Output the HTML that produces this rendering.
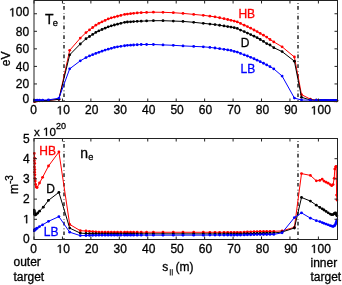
<!DOCTYPE html>
<html><head><meta charset="utf-8"><style>
html,body{margin:0;padding:0;background:#fff;overflow:hidden;}
svg{display:block;font-family:"Liberation Sans",sans-serif;will-change:transform;}
</style></head><body>
<svg width="342" height="285" viewBox="0 0 342 285"><rect width="342" height="285" fill="#fff"/><defs><clipPath id="c1"><rect x="33.0" y="0.5" width="305.5" height="102.0"/></clipPath><clipPath id="c2"><rect x="33.0" y="138.5" width="305.5" height="102.0"/></clipPath></defs><line x1="64.0" y1="0.5" x2="64.0" y2="101.5" stroke="#1a1a1a" stroke-width="1.4" stroke-dasharray="3.7 3.2 0.6 2.2" stroke-dashoffset="4.1"/>
<line x1="298.0" y1="0.5" x2="298.0" y2="101.5" stroke="#1a1a1a" stroke-width="1.4" stroke-dasharray="3.7 3.2 0.6 2.2" stroke-dashoffset="4.1"/>
<g clip-path="url(#c1)"><polyline points="34.00,101.20 34.20,101.19 34.40,101.17 34.60,101.16 34.80,101.15 35.00,101.14 35.30,101.12 35.70,101.09 36.20,101.06 37.10,101.00 39.50,100.91 42.60,100.80 48.50,100.40 58.90,99.30 69.70,50.30 80.30,38.10 86.00,32.61 89.50,29.90 92.70,27.52 95.80,25.22 98.90,23.34 102.00,21.87 105.10,20.39 108.20,18.92 111.30,17.84 114.40,17.03 117.50,16.23 120.80,15.38 124.60,14.40 127.40,14.06 130.60,13.67 133.60,13.31 137.20,12.89 141.20,12.68 146.60,12.40 153.40,12.20 163.00,12.30 173.30,12.70 183.00,13.39 193.70,14.40 203.30,15.30 209.90,16.18 215.00,16.87 219.60,17.77 224.00,18.71 227.70,19.50 231.00,20.30 234.20,21.07 237.30,21.93 240.50,23.41 244.20,25.20 247.40,26.56 250.70,28.20 254.00,30.00 257.10,31.60 260.20,33.40 263.50,35.20 266.70,37.10 270.00,39.50 273.80,41.88 282.10,46.80 294.40,57.00 301.50,94.60 310.40,99.20 316.30,100.20 319.80,100.48 322.20,100.54 324.00,100.57 326.10,100.61 328.20,100.64 330.30,100.68 331.70,100.71 333.10,100.73 334.20,100.75 334.80,100.76 335.60,100.78 336.20,100.79 336.60,100.79 337.00,100.80" fill="none" stroke="#ff0000" stroke-width="1.0" stroke-linejoin="round"/>
<g fill="#ff0000"><circle cx="34.00" cy="101.20" r="1.4"/><circle cx="34.20" cy="101.19" r="1.4"/><circle cx="34.40" cy="101.17" r="1.4"/><circle cx="34.60" cy="101.16" r="1.4"/><circle cx="34.80" cy="101.15" r="1.4"/><circle cx="35.00" cy="101.14" r="1.4"/><circle cx="35.30" cy="101.12" r="1.4"/><circle cx="35.70" cy="101.09" r="1.4"/><circle cx="36.20" cy="101.06" r="1.4"/><circle cx="37.10" cy="101.00" r="1.4"/><circle cx="39.50" cy="100.91" r="1.4"/><circle cx="42.60" cy="100.80" r="1.4"/><circle cx="48.50" cy="100.40" r="1.4"/><circle cx="58.90" cy="99.30" r="1.4"/><circle cx="69.70" cy="50.30" r="1.4"/><circle cx="80.30" cy="38.10" r="1.4"/><circle cx="86.00" cy="32.61" r="1.4"/><circle cx="89.50" cy="29.90" r="1.4"/><circle cx="92.70" cy="27.52" r="1.4"/><circle cx="95.80" cy="25.22" r="1.4"/><circle cx="98.90" cy="23.34" r="1.4"/><circle cx="102.00" cy="21.87" r="1.4"/><circle cx="105.10" cy="20.39" r="1.4"/><circle cx="108.20" cy="18.92" r="1.4"/><circle cx="111.30" cy="17.84" r="1.4"/><circle cx="114.40" cy="17.03" r="1.4"/><circle cx="117.50" cy="16.23" r="1.4"/><circle cx="120.80" cy="15.38" r="1.4"/><circle cx="124.60" cy="14.40" r="1.4"/><circle cx="127.40" cy="14.06" r="1.4"/><circle cx="130.60" cy="13.67" r="1.4"/><circle cx="133.60" cy="13.31" r="1.4"/><circle cx="137.20" cy="12.89" r="1.4"/><circle cx="141.20" cy="12.68" r="1.4"/><circle cx="146.60" cy="12.40" r="1.4"/><circle cx="153.40" cy="12.20" r="1.4"/><circle cx="163.00" cy="12.30" r="1.4"/><circle cx="173.30" cy="12.70" r="1.4"/><circle cx="183.00" cy="13.39" r="1.4"/><circle cx="193.70" cy="14.40" r="1.4"/><circle cx="203.30" cy="15.30" r="1.4"/><circle cx="209.90" cy="16.18" r="1.4"/><circle cx="215.00" cy="16.87" r="1.4"/><circle cx="219.60" cy="17.77" r="1.4"/><circle cx="224.00" cy="18.71" r="1.4"/><circle cx="227.70" cy="19.50" r="1.4"/><circle cx="231.00" cy="20.30" r="1.4"/><circle cx="234.20" cy="21.07" r="1.4"/><circle cx="237.30" cy="21.93" r="1.4"/><circle cx="240.50" cy="23.41" r="1.4"/><circle cx="244.20" cy="25.20" r="1.4"/><circle cx="247.40" cy="26.56" r="1.4"/><circle cx="250.70" cy="28.20" r="1.4"/><circle cx="254.00" cy="30.00" r="1.4"/><circle cx="257.10" cy="31.60" r="1.4"/><circle cx="260.20" cy="33.40" r="1.4"/><circle cx="263.50" cy="35.20" r="1.4"/><circle cx="266.70" cy="37.10" r="1.4"/><circle cx="270.00" cy="39.50" r="1.4"/><circle cx="273.80" cy="41.88" r="1.4"/><circle cx="282.10" cy="46.80" r="1.4"/><circle cx="294.40" cy="57.00" r="1.4"/><circle cx="301.50" cy="94.60" r="1.4"/><circle cx="310.40" cy="99.20" r="1.4"/><circle cx="316.30" cy="100.20" r="1.4"/><circle cx="319.80" cy="100.48" r="1.4"/><circle cx="322.20" cy="100.54" r="1.4"/><circle cx="324.00" cy="100.57" r="1.4"/><circle cx="326.10" cy="100.61" r="1.4"/><circle cx="328.20" cy="100.64" r="1.4"/><circle cx="330.30" cy="100.68" r="1.4"/><circle cx="331.70" cy="100.71" r="1.4"/><circle cx="333.10" cy="100.73" r="1.4"/><circle cx="334.20" cy="100.75" r="1.4"/><circle cx="334.80" cy="100.76" r="1.4"/><circle cx="335.60" cy="100.78" r="1.4"/><circle cx="336.20" cy="100.79" r="1.4"/><circle cx="336.60" cy="100.79" r="1.4"/><circle cx="337.00" cy="100.80" r="1.4"/></g>
<polyline points="34.00,101.00 34.20,100.99 34.40,100.98 34.60,100.98 34.80,100.97 35.00,100.96 35.30,100.95 35.70,100.93 36.20,100.91 37.10,100.87 39.50,100.77 42.60,100.64 48.50,100.40 58.90,99.30 69.70,54.80 80.30,44.00 86.00,38.76 89.50,36.51 92.70,34.45 95.80,32.46 98.90,30.82 102.00,29.50 105.10,28.18 108.20,26.85 111.30,25.82 114.40,25.00 117.50,24.18 120.80,23.31 124.60,22.31 127.40,22.02 130.60,21.78 133.60,21.56 137.20,21.29 141.20,21.14 146.60,20.94 153.40,20.70 163.00,20.70 173.30,21.06 183.00,21.40 193.70,22.30 203.30,23.33 209.90,24.04 215.00,24.59 219.60,25.27 224.00,25.96 227.70,26.54 231.00,27.09 234.20,27.70 237.30,28.46 240.50,30.10 244.20,31.60 247.40,33.05 250.70,34.60 254.00,36.20 257.10,37.70 260.20,39.50 263.50,41.40 266.70,43.60 270.00,45.00 273.80,47.70 282.10,51.60 294.40,61.20 301.50,97.30 310.40,100.00 316.30,100.18 319.80,100.28 322.20,100.35 324.00,100.41 326.10,100.47 328.20,100.54 330.30,100.60 331.70,100.64 333.10,100.68 334.20,100.72 334.80,100.73 335.60,100.76 336.20,100.78 336.60,100.79 337.00,100.80" fill="none" stroke="#000000" stroke-width="1.0" stroke-linejoin="round"/>
<g fill="#000000"><circle cx="34.00" cy="101.00" r="1.4"/><circle cx="34.20" cy="100.99" r="1.4"/><circle cx="34.40" cy="100.98" r="1.4"/><circle cx="34.60" cy="100.98" r="1.4"/><circle cx="34.80" cy="100.97" r="1.4"/><circle cx="35.00" cy="100.96" r="1.4"/><circle cx="35.30" cy="100.95" r="1.4"/><circle cx="35.70" cy="100.93" r="1.4"/><circle cx="36.20" cy="100.91" r="1.4"/><circle cx="37.10" cy="100.87" r="1.4"/><circle cx="39.50" cy="100.77" r="1.4"/><circle cx="42.60" cy="100.64" r="1.4"/><circle cx="48.50" cy="100.40" r="1.4"/><circle cx="58.90" cy="99.30" r="1.4"/><circle cx="69.70" cy="54.80" r="1.4"/><circle cx="80.30" cy="44.00" r="1.4"/><circle cx="86.00" cy="38.76" r="1.4"/><circle cx="89.50" cy="36.51" r="1.4"/><circle cx="92.70" cy="34.45" r="1.4"/><circle cx="95.80" cy="32.46" r="1.4"/><circle cx="98.90" cy="30.82" r="1.4"/><circle cx="102.00" cy="29.50" r="1.4"/><circle cx="105.10" cy="28.18" r="1.4"/><circle cx="108.20" cy="26.85" r="1.4"/><circle cx="111.30" cy="25.82" r="1.4"/><circle cx="114.40" cy="25.00" r="1.4"/><circle cx="117.50" cy="24.18" r="1.4"/><circle cx="120.80" cy="23.31" r="1.4"/><circle cx="124.60" cy="22.31" r="1.4"/><circle cx="127.40" cy="22.02" r="1.4"/><circle cx="130.60" cy="21.78" r="1.4"/><circle cx="133.60" cy="21.56" r="1.4"/><circle cx="137.20" cy="21.29" r="1.4"/><circle cx="141.20" cy="21.14" r="1.4"/><circle cx="146.60" cy="20.94" r="1.4"/><circle cx="153.40" cy="20.70" r="1.4"/><circle cx="163.00" cy="20.70" r="1.4"/><circle cx="173.30" cy="21.06" r="1.4"/><circle cx="183.00" cy="21.40" r="1.4"/><circle cx="193.70" cy="22.30" r="1.4"/><circle cx="203.30" cy="23.33" r="1.4"/><circle cx="209.90" cy="24.04" r="1.4"/><circle cx="215.00" cy="24.59" r="1.4"/><circle cx="219.60" cy="25.27" r="1.4"/><circle cx="224.00" cy="25.96" r="1.4"/><circle cx="227.70" cy="26.54" r="1.4"/><circle cx="231.00" cy="27.09" r="1.4"/><circle cx="234.20" cy="27.70" r="1.4"/><circle cx="237.30" cy="28.46" r="1.4"/><circle cx="240.50" cy="30.10" r="1.4"/><circle cx="244.20" cy="31.60" r="1.4"/><circle cx="247.40" cy="33.05" r="1.4"/><circle cx="250.70" cy="34.60" r="1.4"/><circle cx="254.00" cy="36.20" r="1.4"/><circle cx="257.10" cy="37.70" r="1.4"/><circle cx="260.20" cy="39.50" r="1.4"/><circle cx="263.50" cy="41.40" r="1.4"/><circle cx="266.70" cy="43.60" r="1.4"/><circle cx="270.00" cy="45.00" r="1.4"/><circle cx="273.80" cy="47.70" r="1.4"/><circle cx="282.10" cy="51.60" r="1.4"/><circle cx="294.40" cy="61.20" r="1.4"/><circle cx="301.50" cy="97.30" r="1.4"/><circle cx="310.40" cy="100.00" r="1.4"/><circle cx="316.30" cy="100.18" r="1.4"/><circle cx="319.80" cy="100.28" r="1.4"/><circle cx="322.20" cy="100.35" r="1.4"/><circle cx="324.00" cy="100.41" r="1.4"/><circle cx="326.10" cy="100.47" r="1.4"/><circle cx="328.20" cy="100.54" r="1.4"/><circle cx="330.30" cy="100.60" r="1.4"/><circle cx="331.70" cy="100.64" r="1.4"/><circle cx="333.10" cy="100.68" r="1.4"/><circle cx="334.20" cy="100.72" r="1.4"/><circle cx="334.80" cy="100.73" r="1.4"/><circle cx="335.60" cy="100.76" r="1.4"/><circle cx="336.20" cy="100.78" r="1.4"/><circle cx="336.60" cy="100.79" r="1.4"/><circle cx="337.00" cy="100.80" r="1.4"/></g>
<polyline points="34.00,100.50 34.20,100.48 34.40,100.46 34.60,100.44 34.80,100.42 35.00,100.40 35.30,100.37 35.70,100.34 36.20,100.29 37.10,100.20 39.50,100.16 42.60,100.10 48.50,99.90 58.90,98.20 69.70,68.80 80.30,60.80 86.00,57.60 89.50,55.91 92.70,54.63 95.80,53.46 98.90,52.30 102.00,51.13 105.10,50.11 108.20,49.21 111.30,48.30 114.40,47.40 117.50,46.83 120.80,46.32 124.60,45.74 127.40,45.36 130.60,45.16 133.60,44.98 137.20,44.75 141.20,44.50 146.60,44.50 153.40,44.50 163.00,44.90 173.30,45.30 183.00,45.90 193.70,46.40 203.30,46.80 209.90,47.40 215.00,48.00 219.60,48.70 224.00,49.30 227.70,49.90 231.00,50.40 234.20,51.41 237.30,52.11 240.50,53.40 244.20,54.86 247.40,56.00 250.70,57.34 254.00,58.76 257.10,60.14 260.20,61.63 263.50,63.27 266.70,64.90 270.00,66.65 273.80,68.90 282.10,76.03 294.40,98.10 301.50,100.00 310.40,100.15 316.30,100.25 319.80,100.31 322.20,100.35 324.00,100.38 326.10,100.42 328.20,100.45 330.30,100.49 331.70,100.51 333.10,100.53 334.20,100.55 334.80,100.56 335.60,100.58 336.20,100.59 336.60,100.59 337.00,100.60" fill="none" stroke="#0000ff" stroke-width="1.0" stroke-linejoin="round"/>
<g fill="#0000ff"><circle cx="34.00" cy="100.50" r="1.4"/><circle cx="34.20" cy="100.48" r="1.4"/><circle cx="34.40" cy="100.46" r="1.4"/><circle cx="34.60" cy="100.44" r="1.4"/><circle cx="34.80" cy="100.42" r="1.4"/><circle cx="35.00" cy="100.40" r="1.4"/><circle cx="35.30" cy="100.37" r="1.4"/><circle cx="35.70" cy="100.34" r="1.4"/><circle cx="36.20" cy="100.29" r="1.4"/><circle cx="37.10" cy="100.20" r="1.4"/><circle cx="39.50" cy="100.16" r="1.4"/><circle cx="42.60" cy="100.10" r="1.4"/><circle cx="48.50" cy="99.90" r="1.4"/><circle cx="58.90" cy="98.20" r="1.4"/><circle cx="69.70" cy="68.80" r="1.4"/><circle cx="80.30" cy="60.80" r="1.4"/><circle cx="86.00" cy="57.60" r="1.4"/><circle cx="89.50" cy="55.91" r="1.4"/><circle cx="92.70" cy="54.63" r="1.4"/><circle cx="95.80" cy="53.46" r="1.4"/><circle cx="98.90" cy="52.30" r="1.4"/><circle cx="102.00" cy="51.13" r="1.4"/><circle cx="105.10" cy="50.11" r="1.4"/><circle cx="108.20" cy="49.21" r="1.4"/><circle cx="111.30" cy="48.30" r="1.4"/><circle cx="114.40" cy="47.40" r="1.4"/><circle cx="117.50" cy="46.83" r="1.4"/><circle cx="120.80" cy="46.32" r="1.4"/><circle cx="124.60" cy="45.74" r="1.4"/><circle cx="127.40" cy="45.36" r="1.4"/><circle cx="130.60" cy="45.16" r="1.4"/><circle cx="133.60" cy="44.98" r="1.4"/><circle cx="137.20" cy="44.75" r="1.4"/><circle cx="141.20" cy="44.50" r="1.4"/><circle cx="146.60" cy="44.50" r="1.4"/><circle cx="153.40" cy="44.50" r="1.4"/><circle cx="163.00" cy="44.90" r="1.4"/><circle cx="173.30" cy="45.30" r="1.4"/><circle cx="183.00" cy="45.90" r="1.4"/><circle cx="193.70" cy="46.40" r="1.4"/><circle cx="203.30" cy="46.80" r="1.4"/><circle cx="209.90" cy="47.40" r="1.4"/><circle cx="215.00" cy="48.00" r="1.4"/><circle cx="219.60" cy="48.70" r="1.4"/><circle cx="224.00" cy="49.30" r="1.4"/><circle cx="227.70" cy="49.90" r="1.4"/><circle cx="231.00" cy="50.40" r="1.4"/><circle cx="234.20" cy="51.41" r="1.4"/><circle cx="237.30" cy="52.11" r="1.4"/><circle cx="240.50" cy="53.40" r="1.4"/><circle cx="244.20" cy="54.86" r="1.4"/><circle cx="247.40" cy="56.00" r="1.4"/><circle cx="250.70" cy="57.34" r="1.4"/><circle cx="254.00" cy="58.76" r="1.4"/><circle cx="257.10" cy="60.14" r="1.4"/><circle cx="260.20" cy="61.63" r="1.4"/><circle cx="263.50" cy="63.27" r="1.4"/><circle cx="266.70" cy="64.90" r="1.4"/><circle cx="270.00" cy="66.65" r="1.4"/><circle cx="273.80" cy="68.90" r="1.4"/><circle cx="282.10" cy="76.03" r="1.4"/><circle cx="294.40" cy="98.10" r="1.4"/><circle cx="301.50" cy="100.00" r="1.4"/><circle cx="310.40" cy="100.15" r="1.4"/><circle cx="316.30" cy="100.25" r="1.4"/><circle cx="319.80" cy="100.31" r="1.4"/><circle cx="322.20" cy="100.35" r="1.4"/><circle cx="324.00" cy="100.38" r="1.4"/><circle cx="326.10" cy="100.42" r="1.4"/><circle cx="328.20" cy="100.45" r="1.4"/><circle cx="330.30" cy="100.49" r="1.4"/><circle cx="331.70" cy="100.51" r="1.4"/><circle cx="333.10" cy="100.53" r="1.4"/><circle cx="334.20" cy="100.55" r="1.4"/><circle cx="334.80" cy="100.56" r="1.4"/><circle cx="335.60" cy="100.58" r="1.4"/><circle cx="336.20" cy="100.59" r="1.4"/><circle cx="336.60" cy="100.59" r="1.4"/><circle cx="337.00" cy="100.60" r="1.4"/></g>
</g><rect x="34.0" y="0.5" width="303.5" height="101.0" fill="none" stroke="#222" stroke-width="1"/>
<line x1="34.00" y1="101.5" x2="34.00" y2="98.5" stroke="#222" stroke-width="1"/><line x1="34.00" y1="0.5" x2="34.00" y2="3.5" stroke="#222" stroke-width="1"/><line x1="62.44" y1="101.5" x2="62.44" y2="98.5" stroke="#222" stroke-width="1"/><line x1="62.44" y1="0.5" x2="62.44" y2="3.5" stroke="#222" stroke-width="1"/><line x1="90.88" y1="101.5" x2="90.88" y2="98.5" stroke="#222" stroke-width="1"/><line x1="90.88" y1="0.5" x2="90.88" y2="3.5" stroke="#222" stroke-width="1"/><line x1="119.32" y1="101.5" x2="119.32" y2="98.5" stroke="#222" stroke-width="1"/><line x1="119.32" y1="0.5" x2="119.32" y2="3.5" stroke="#222" stroke-width="1"/><line x1="147.76" y1="101.5" x2="147.76" y2="98.5" stroke="#222" stroke-width="1"/><line x1="147.76" y1="0.5" x2="147.76" y2="3.5" stroke="#222" stroke-width="1"/><line x1="176.20" y1="101.5" x2="176.20" y2="98.5" stroke="#222" stroke-width="1"/><line x1="176.20" y1="0.5" x2="176.20" y2="3.5" stroke="#222" stroke-width="1"/><line x1="204.64" y1="101.5" x2="204.64" y2="98.5" stroke="#222" stroke-width="1"/><line x1="204.64" y1="0.5" x2="204.64" y2="3.5" stroke="#222" stroke-width="1"/><line x1="233.08" y1="101.5" x2="233.08" y2="98.5" stroke="#222" stroke-width="1"/><line x1="233.08" y1="0.5" x2="233.08" y2="3.5" stroke="#222" stroke-width="1"/><line x1="261.52" y1="101.5" x2="261.52" y2="98.5" stroke="#222" stroke-width="1"/><line x1="261.52" y1="0.5" x2="261.52" y2="3.5" stroke="#222" stroke-width="1"/><line x1="289.96" y1="101.5" x2="289.96" y2="98.5" stroke="#222" stroke-width="1"/><line x1="289.96" y1="0.5" x2="289.96" y2="3.5" stroke="#222" stroke-width="1"/><line x1="318.40" y1="101.5" x2="318.40" y2="98.5" stroke="#222" stroke-width="1"/><line x1="318.40" y1="0.5" x2="318.40" y2="3.5" stroke="#222" stroke-width="1"/>
<line x1="34.0" y1="101.50" x2="37.0" y2="101.50" stroke="#222" stroke-width="1"/><line x1="337.5" y1="101.50" x2="334.5" y2="101.50" stroke="#222" stroke-width="1"/><line x1="34.0" y1="83.95" x2="37.0" y2="83.95" stroke="#222" stroke-width="1"/><line x1="337.5" y1="83.95" x2="334.5" y2="83.95" stroke="#222" stroke-width="1"/><line x1="34.0" y1="66.40" x2="37.0" y2="66.40" stroke="#222" stroke-width="1"/><line x1="337.5" y1="66.40" x2="334.5" y2="66.40" stroke="#222" stroke-width="1"/><line x1="34.0" y1="48.85" x2="37.0" y2="48.85" stroke="#222" stroke-width="1"/><line x1="337.5" y1="48.85" x2="334.5" y2="48.85" stroke="#222" stroke-width="1"/><line x1="34.0" y1="31.30" x2="37.0" y2="31.30" stroke="#222" stroke-width="1"/><line x1="337.5" y1="31.30" x2="334.5" y2="31.30" stroke="#222" stroke-width="1"/><line x1="34.0" y1="13.75" x2="37.0" y2="13.75" stroke="#222" stroke-width="1"/><line x1="337.5" y1="13.75" x2="334.5" y2="13.75" stroke="#222" stroke-width="1"/>
<line x1="64.0" y1="138.5" x2="64.0" y2="239.5" stroke="#1a1a1a" stroke-width="1.4" stroke-dasharray="3.7 3.2 0.6 2.2" stroke-dashoffset="4.1"/>
<line x1="298.0" y1="138.5" x2="298.0" y2="239.5" stroke="#1a1a1a" stroke-width="1.4" stroke-dasharray="3.7 3.2 0.6 2.2" stroke-dashoffset="4.1"/>
<g clip-path="url(#c2)"><polyline points="34.30,153.40 34.60,158.20 34.40,160.80 34.70,163.40 34.50,166.90 34.80,169.60 34.60,172.20 34.90,174.80 34.80,178.30 35.20,181.00 35.60,184.50 36.20,187.10 37.10,187.50 39.50,183.00 42.60,177.30 48.50,166.00 58.90,152.00 69.70,224.40 80.30,230.70 86.00,231.00 89.50,231.30 92.70,231.57 95.80,231.84 98.90,232.11 102.00,232.20 105.10,232.20 108.20,232.21 111.30,232.21 114.40,232.21 117.50,232.21 120.80,232.21 124.60,232.22 127.40,232.22 130.60,232.22 133.60,232.22 137.20,232.23 141.20,232.23 146.60,232.23 153.40,232.24 163.00,232.25 173.30,232.25 183.00,232.26 193.70,232.27 203.30,232.27 209.90,232.28 215.00,232.28 219.60,232.29 224.00,232.29 227.70,232.29 231.00,232.29 234.20,232.30 237.30,232.30 240.50,232.28 244.20,232.10 247.40,231.95 250.70,231.80 254.00,231.65 257.10,231.57 260.20,231.52 263.50,231.46 266.70,231.41 270.00,231.36 273.80,231.30 282.10,230.90 294.40,227.30 301.50,173.60 310.40,175.40 316.30,180.80 319.80,180.40 322.20,179.20 324.00,181.10 326.10,182.20 328.20,183.20 330.30,184.60 331.70,185.70 333.10,184.60 334.20,178.30 334.80,169.10 335.60,167.00 336.20,166.30 336.60,195.10 337.00,200.00" fill="none" stroke="#ff0000" stroke-width="1.0" stroke-linejoin="round"/>
<g fill="#ff0000"><circle cx="34.30" cy="153.40" r="1.4"/><circle cx="34.60" cy="158.20" r="1.4"/><circle cx="34.40" cy="160.80" r="1.4"/><circle cx="34.70" cy="163.40" r="1.4"/><circle cx="34.50" cy="166.90" r="1.4"/><circle cx="34.80" cy="169.60" r="1.4"/><circle cx="34.60" cy="172.20" r="1.4"/><circle cx="34.90" cy="174.80" r="1.4"/><circle cx="34.80" cy="178.30" r="1.4"/><circle cx="35.20" cy="181.00" r="1.4"/><circle cx="35.60" cy="184.50" r="1.4"/><circle cx="36.20" cy="187.10" r="1.4"/><circle cx="37.10" cy="187.50" r="1.4"/><circle cx="39.50" cy="183.00" r="1.4"/><circle cx="42.60" cy="177.30" r="1.4"/><circle cx="48.50" cy="166.00" r="1.4"/><circle cx="58.90" cy="152.00" r="1.4"/><circle cx="69.70" cy="224.40" r="1.4"/><circle cx="80.30" cy="230.70" r="1.4"/><circle cx="86.00" cy="231.00" r="1.4"/><circle cx="89.50" cy="231.30" r="1.4"/><circle cx="92.70" cy="231.57" r="1.4"/><circle cx="95.80" cy="231.84" r="1.4"/><circle cx="98.90" cy="232.11" r="1.4"/><circle cx="102.00" cy="232.20" r="1.4"/><circle cx="105.10" cy="232.20" r="1.4"/><circle cx="108.20" cy="232.21" r="1.4"/><circle cx="111.30" cy="232.21" r="1.4"/><circle cx="114.40" cy="232.21" r="1.4"/><circle cx="117.50" cy="232.21" r="1.4"/><circle cx="120.80" cy="232.21" r="1.4"/><circle cx="124.60" cy="232.22" r="1.4"/><circle cx="127.40" cy="232.22" r="1.4"/><circle cx="130.60" cy="232.22" r="1.4"/><circle cx="133.60" cy="232.22" r="1.4"/><circle cx="137.20" cy="232.23" r="1.4"/><circle cx="141.20" cy="232.23" r="1.4"/><circle cx="146.60" cy="232.23" r="1.4"/><circle cx="153.40" cy="232.24" r="1.4"/><circle cx="163.00" cy="232.25" r="1.4"/><circle cx="173.30" cy="232.25" r="1.4"/><circle cx="183.00" cy="232.26" r="1.4"/><circle cx="193.70" cy="232.27" r="1.4"/><circle cx="203.30" cy="232.27" r="1.4"/><circle cx="209.90" cy="232.28" r="1.4"/><circle cx="215.00" cy="232.28" r="1.4"/><circle cx="219.60" cy="232.29" r="1.4"/><circle cx="224.00" cy="232.29" r="1.4"/><circle cx="227.70" cy="232.29" r="1.4"/><circle cx="231.00" cy="232.29" r="1.4"/><circle cx="234.20" cy="232.30" r="1.4"/><circle cx="237.30" cy="232.30" r="1.4"/><circle cx="240.50" cy="232.28" r="1.4"/><circle cx="244.20" cy="232.10" r="1.4"/><circle cx="247.40" cy="231.95" r="1.4"/><circle cx="250.70" cy="231.80" r="1.4"/><circle cx="254.00" cy="231.65" r="1.4"/><circle cx="257.10" cy="231.57" r="1.4"/><circle cx="260.20" cy="231.52" r="1.4"/><circle cx="263.50" cy="231.46" r="1.4"/><circle cx="266.70" cy="231.41" r="1.4"/><circle cx="270.00" cy="231.36" r="1.4"/><circle cx="273.80" cy="231.30" r="1.4"/><circle cx="282.10" cy="230.90" r="1.4"/><circle cx="294.40" cy="227.30" r="1.4"/><circle cx="301.50" cy="173.60" r="1.4"/><circle cx="310.40" cy="175.40" r="1.4"/><circle cx="316.30" cy="180.80" r="1.4"/><circle cx="319.80" cy="180.40" r="1.4"/><circle cx="322.20" cy="179.20" r="1.4"/><circle cx="324.00" cy="181.10" r="1.4"/><circle cx="326.10" cy="182.20" r="1.4"/><circle cx="328.20" cy="183.20" r="1.4"/><circle cx="330.30" cy="184.60" r="1.4"/><circle cx="331.70" cy="185.70" r="1.4"/><circle cx="333.10" cy="184.60" r="1.4"/><circle cx="334.20" cy="178.30" r="1.4"/><circle cx="334.80" cy="169.10" r="1.4"/><circle cx="335.60" cy="167.00" r="1.4"/><circle cx="336.20" cy="166.30" r="1.4"/><circle cx="336.60" cy="195.10" r="1.4"/><circle cx="337.00" cy="200.00" r="1.4"/></g>
<polyline points="34.00,210.10 34.30,211.00 34.20,212.00 34.50,213.00 34.40,213.80 34.70,214.40 35.00,214.90 35.50,214.80 36.20,214.20 37.80,213.00 39.50,211.20 43.30,207.20 48.40,200.40 58.90,192.30 69.70,228.10 80.30,233.10 86.00,233.50 89.50,233.57 92.70,233.64 95.80,233.71 98.90,233.78 102.00,233.80 105.10,233.80 108.20,233.81 111.30,233.81 114.40,233.81 117.50,233.81 120.80,233.81 124.60,233.82 127.40,233.82 130.60,233.82 133.60,233.82 137.20,233.83 141.20,233.83 146.60,233.83 153.40,233.84 163.00,233.84 173.30,233.85 183.00,233.86 193.70,233.87 203.30,233.87 209.90,233.88 215.00,233.88 219.60,233.89 224.00,233.89 227.70,233.89 231.00,233.89 234.20,233.90 237.30,233.90 240.50,233.88 244.20,233.76 247.40,233.65 250.70,233.54 254.00,233.43 257.10,233.36 260.20,233.29 263.50,233.22 266.70,233.15 270.00,233.08 273.80,233.00 282.10,232.00 294.40,228.00 301.50,197.46 310.40,201.05 316.30,205.13 319.80,207.40 322.20,208.84 324.00,209.98 326.10,211.39 328.20,212.82 330.30,214.08 331.70,214.72 333.10,214.60 334.20,213.55 334.80,213.23 335.60,212.80 336.20,214.18 336.60,215.10 337.00,215.83" fill="none" stroke="#000000" stroke-width="1.0" stroke-linejoin="round"/>
<g fill="#000000"><circle cx="34.00" cy="210.10" r="1.4"/><circle cx="34.30" cy="211.00" r="1.4"/><circle cx="34.20" cy="212.00" r="1.4"/><circle cx="34.50" cy="213.00" r="1.4"/><circle cx="34.40" cy="213.80" r="1.4"/><circle cx="34.70" cy="214.40" r="1.4"/><circle cx="35.00" cy="214.90" r="1.4"/><circle cx="35.50" cy="214.80" r="1.4"/><circle cx="36.20" cy="214.20" r="1.4"/><circle cx="37.80" cy="213.00" r="1.4"/><circle cx="39.50" cy="211.20" r="1.4"/><circle cx="43.30" cy="207.20" r="1.4"/><circle cx="48.40" cy="200.40" r="1.4"/><circle cx="58.90" cy="192.30" r="1.4"/><circle cx="69.70" cy="228.10" r="1.4"/><circle cx="80.30" cy="233.10" r="1.4"/><circle cx="86.00" cy="233.50" r="1.4"/><circle cx="89.50" cy="233.57" r="1.4"/><circle cx="92.70" cy="233.64" r="1.4"/><circle cx="95.80" cy="233.71" r="1.4"/><circle cx="98.90" cy="233.78" r="1.4"/><circle cx="102.00" cy="233.80" r="1.4"/><circle cx="105.10" cy="233.80" r="1.4"/><circle cx="108.20" cy="233.81" r="1.4"/><circle cx="111.30" cy="233.81" r="1.4"/><circle cx="114.40" cy="233.81" r="1.4"/><circle cx="117.50" cy="233.81" r="1.4"/><circle cx="120.80" cy="233.81" r="1.4"/><circle cx="124.60" cy="233.82" r="1.4"/><circle cx="127.40" cy="233.82" r="1.4"/><circle cx="130.60" cy="233.82" r="1.4"/><circle cx="133.60" cy="233.82" r="1.4"/><circle cx="137.20" cy="233.83" r="1.4"/><circle cx="141.20" cy="233.83" r="1.4"/><circle cx="146.60" cy="233.83" r="1.4"/><circle cx="153.40" cy="233.84" r="1.4"/><circle cx="163.00" cy="233.84" r="1.4"/><circle cx="173.30" cy="233.85" r="1.4"/><circle cx="183.00" cy="233.86" r="1.4"/><circle cx="193.70" cy="233.87" r="1.4"/><circle cx="203.30" cy="233.87" r="1.4"/><circle cx="209.90" cy="233.88" r="1.4"/><circle cx="215.00" cy="233.88" r="1.4"/><circle cx="219.60" cy="233.89" r="1.4"/><circle cx="224.00" cy="233.89" r="1.4"/><circle cx="227.70" cy="233.89" r="1.4"/><circle cx="231.00" cy="233.89" r="1.4"/><circle cx="234.20" cy="233.90" r="1.4"/><circle cx="237.30" cy="233.90" r="1.4"/><circle cx="240.50" cy="233.88" r="1.4"/><circle cx="244.20" cy="233.76" r="1.4"/><circle cx="247.40" cy="233.65" r="1.4"/><circle cx="250.70" cy="233.54" r="1.4"/><circle cx="254.00" cy="233.43" r="1.4"/><circle cx="257.10" cy="233.36" r="1.4"/><circle cx="260.20" cy="233.29" r="1.4"/><circle cx="263.50" cy="233.22" r="1.4"/><circle cx="266.70" cy="233.15" r="1.4"/><circle cx="270.00" cy="233.08" r="1.4"/><circle cx="273.80" cy="233.00" r="1.4"/><circle cx="282.10" cy="232.00" r="1.4"/><circle cx="294.40" cy="228.00" r="1.4"/><circle cx="301.50" cy="197.46" r="1.4"/><circle cx="310.40" cy="201.05" r="1.4"/><circle cx="316.30" cy="205.13" r="1.4"/><circle cx="319.80" cy="207.40" r="1.4"/><circle cx="322.20" cy="208.84" r="1.4"/><circle cx="324.00" cy="209.98" r="1.4"/><circle cx="326.10" cy="211.39" r="1.4"/><circle cx="328.20" cy="212.82" r="1.4"/><circle cx="330.30" cy="214.08" r="1.4"/><circle cx="331.70" cy="214.72" r="1.4"/><circle cx="333.10" cy="214.60" r="1.4"/><circle cx="334.20" cy="213.55" r="1.4"/><circle cx="334.80" cy="213.23" r="1.4"/><circle cx="335.60" cy="212.80" r="1.4"/><circle cx="336.20" cy="214.18" r="1.4"/><circle cx="336.60" cy="215.10" r="1.4"/><circle cx="337.00" cy="215.83" r="1.4"/></g>
<polyline points="34.00,230.60 34.20,230.40 34.40,230.20 34.60,230.00 34.80,229.80 35.00,229.60 35.30,229.40 35.70,229.10 36.20,228.80 37.10,228.20 39.50,226.60 42.60,224.80 48.50,221.30 58.90,216.60 69.70,232.20 80.30,235.60 86.00,235.50 89.50,235.43 92.70,235.36 95.80,235.29 98.90,235.22 102.00,235.20 105.10,235.20 108.20,235.19 111.30,235.19 114.40,235.19 117.50,235.19 120.80,235.19 124.60,235.18 127.40,235.18 130.60,235.18 133.60,235.18 137.20,235.17 141.20,235.17 146.60,235.17 153.40,235.16 163.00,235.16 173.30,235.15 183.00,235.14 193.70,235.13 203.30,235.13 209.90,235.12 215.00,235.12 219.60,235.11 224.00,235.11 227.70,235.11 231.00,235.11 234.20,235.10 237.30,235.10 240.50,235.08 244.20,234.96 247.40,234.85 250.70,234.74 254.00,234.63 257.10,234.58 260.20,234.54 263.50,234.51 266.70,234.48 270.00,234.44 273.80,234.40 282.10,232.80 294.40,217.60 301.50,212.86 310.40,218.13 316.30,220.66 319.80,221.62 322.20,222.55 324.00,223.28 326.10,224.07 328.20,224.87 330.30,225.66 331.70,226.09 333.10,226.50 334.20,225.79 334.80,225.40 335.60,223.93 336.20,222.53 336.60,221.18 337.00,219.84" fill="none" stroke="#0000ff" stroke-width="1.0" stroke-linejoin="round"/>
<g fill="#0000ff"><circle cx="34.00" cy="230.60" r="1.4"/><circle cx="34.20" cy="230.40" r="1.4"/><circle cx="34.40" cy="230.20" r="1.4"/><circle cx="34.60" cy="230.00" r="1.4"/><circle cx="34.80" cy="229.80" r="1.4"/><circle cx="35.00" cy="229.60" r="1.4"/><circle cx="35.30" cy="229.40" r="1.4"/><circle cx="35.70" cy="229.10" r="1.4"/><circle cx="36.20" cy="228.80" r="1.4"/><circle cx="37.10" cy="228.20" r="1.4"/><circle cx="39.50" cy="226.60" r="1.4"/><circle cx="42.60" cy="224.80" r="1.4"/><circle cx="48.50" cy="221.30" r="1.4"/><circle cx="58.90" cy="216.60" r="1.4"/><circle cx="69.70" cy="232.20" r="1.4"/><circle cx="80.30" cy="235.60" r="1.4"/><circle cx="86.00" cy="235.50" r="1.4"/><circle cx="89.50" cy="235.43" r="1.4"/><circle cx="92.70" cy="235.36" r="1.4"/><circle cx="95.80" cy="235.29" r="1.4"/><circle cx="98.90" cy="235.22" r="1.4"/><circle cx="102.00" cy="235.20" r="1.4"/><circle cx="105.10" cy="235.20" r="1.4"/><circle cx="108.20" cy="235.19" r="1.4"/><circle cx="111.30" cy="235.19" r="1.4"/><circle cx="114.40" cy="235.19" r="1.4"/><circle cx="117.50" cy="235.19" r="1.4"/><circle cx="120.80" cy="235.19" r="1.4"/><circle cx="124.60" cy="235.18" r="1.4"/><circle cx="127.40" cy="235.18" r="1.4"/><circle cx="130.60" cy="235.18" r="1.4"/><circle cx="133.60" cy="235.18" r="1.4"/><circle cx="137.20" cy="235.17" r="1.4"/><circle cx="141.20" cy="235.17" r="1.4"/><circle cx="146.60" cy="235.17" r="1.4"/><circle cx="153.40" cy="235.16" r="1.4"/><circle cx="163.00" cy="235.16" r="1.4"/><circle cx="173.30" cy="235.15" r="1.4"/><circle cx="183.00" cy="235.14" r="1.4"/><circle cx="193.70" cy="235.13" r="1.4"/><circle cx="203.30" cy="235.13" r="1.4"/><circle cx="209.90" cy="235.12" r="1.4"/><circle cx="215.00" cy="235.12" r="1.4"/><circle cx="219.60" cy="235.11" r="1.4"/><circle cx="224.00" cy="235.11" r="1.4"/><circle cx="227.70" cy="235.11" r="1.4"/><circle cx="231.00" cy="235.11" r="1.4"/><circle cx="234.20" cy="235.10" r="1.4"/><circle cx="237.30" cy="235.10" r="1.4"/><circle cx="240.50" cy="235.08" r="1.4"/><circle cx="244.20" cy="234.96" r="1.4"/><circle cx="247.40" cy="234.85" r="1.4"/><circle cx="250.70" cy="234.74" r="1.4"/><circle cx="254.00" cy="234.63" r="1.4"/><circle cx="257.10" cy="234.58" r="1.4"/><circle cx="260.20" cy="234.54" r="1.4"/><circle cx="263.50" cy="234.51" r="1.4"/><circle cx="266.70" cy="234.48" r="1.4"/><circle cx="270.00" cy="234.44" r="1.4"/><circle cx="273.80" cy="234.40" r="1.4"/><circle cx="282.10" cy="232.80" r="1.4"/><circle cx="294.40" cy="217.60" r="1.4"/><circle cx="301.50" cy="212.86" r="1.4"/><circle cx="310.40" cy="218.13" r="1.4"/><circle cx="316.30" cy="220.66" r="1.4"/><circle cx="319.80" cy="221.62" r="1.4"/><circle cx="322.20" cy="222.55" r="1.4"/><circle cx="324.00" cy="223.28" r="1.4"/><circle cx="326.10" cy="224.07" r="1.4"/><circle cx="328.20" cy="224.87" r="1.4"/><circle cx="330.30" cy="225.66" r="1.4"/><circle cx="331.70" cy="226.09" r="1.4"/><circle cx="333.10" cy="226.50" r="1.4"/><circle cx="334.20" cy="225.79" r="1.4"/><circle cx="334.80" cy="225.40" r="1.4"/><circle cx="335.60" cy="223.93" r="1.4"/><circle cx="336.20" cy="222.53" r="1.4"/><circle cx="336.60" cy="221.18" r="1.4"/><circle cx="337.00" cy="219.84" r="1.4"/></g>
</g><rect x="34.0" y="138.5" width="303.5" height="101.0" fill="none" stroke="#222" stroke-width="1"/>
<line x1="34.00" y1="239.5" x2="34.00" y2="236.5" stroke="#222" stroke-width="1"/><line x1="34.00" y1="138.5" x2="34.00" y2="141.5" stroke="#222" stroke-width="1"/><line x1="62.44" y1="239.5" x2="62.44" y2="236.5" stroke="#222" stroke-width="1"/><line x1="62.44" y1="138.5" x2="62.44" y2="141.5" stroke="#222" stroke-width="1"/><line x1="90.88" y1="239.5" x2="90.88" y2="236.5" stroke="#222" stroke-width="1"/><line x1="90.88" y1="138.5" x2="90.88" y2="141.5" stroke="#222" stroke-width="1"/><line x1="119.32" y1="239.5" x2="119.32" y2="236.5" stroke="#222" stroke-width="1"/><line x1="119.32" y1="138.5" x2="119.32" y2="141.5" stroke="#222" stroke-width="1"/><line x1="147.76" y1="239.5" x2="147.76" y2="236.5" stroke="#222" stroke-width="1"/><line x1="147.76" y1="138.5" x2="147.76" y2="141.5" stroke="#222" stroke-width="1"/><line x1="176.20" y1="239.5" x2="176.20" y2="236.5" stroke="#222" stroke-width="1"/><line x1="176.20" y1="138.5" x2="176.20" y2="141.5" stroke="#222" stroke-width="1"/><line x1="204.64" y1="239.5" x2="204.64" y2="236.5" stroke="#222" stroke-width="1"/><line x1="204.64" y1="138.5" x2="204.64" y2="141.5" stroke="#222" stroke-width="1"/><line x1="233.08" y1="239.5" x2="233.08" y2="236.5" stroke="#222" stroke-width="1"/><line x1="233.08" y1="138.5" x2="233.08" y2="141.5" stroke="#222" stroke-width="1"/><line x1="261.52" y1="239.5" x2="261.52" y2="236.5" stroke="#222" stroke-width="1"/><line x1="261.52" y1="138.5" x2="261.52" y2="141.5" stroke="#222" stroke-width="1"/><line x1="289.96" y1="239.5" x2="289.96" y2="236.5" stroke="#222" stroke-width="1"/><line x1="289.96" y1="138.5" x2="289.96" y2="141.5" stroke="#222" stroke-width="1"/><line x1="318.40" y1="239.5" x2="318.40" y2="236.5" stroke="#222" stroke-width="1"/><line x1="318.40" y1="138.5" x2="318.40" y2="141.5" stroke="#222" stroke-width="1"/>
<line x1="34.0" y1="239.50" x2="37.0" y2="239.50" stroke="#222" stroke-width="1"/><line x1="337.5" y1="239.50" x2="334.5" y2="239.50" stroke="#222" stroke-width="1"/><line x1="34.0" y1="219.30" x2="37.0" y2="219.30" stroke="#222" stroke-width="1"/><line x1="337.5" y1="219.30" x2="334.5" y2="219.30" stroke="#222" stroke-width="1"/><line x1="34.0" y1="199.10" x2="37.0" y2="199.10" stroke="#222" stroke-width="1"/><line x1="337.5" y1="199.10" x2="334.5" y2="199.10" stroke="#222" stroke-width="1"/><line x1="34.0" y1="178.90" x2="37.0" y2="178.90" stroke="#222" stroke-width="1"/><line x1="337.5" y1="178.90" x2="334.5" y2="178.90" stroke="#222" stroke-width="1"/><line x1="34.0" y1="158.70" x2="37.0" y2="158.70" stroke="#222" stroke-width="1"/><line x1="337.5" y1="158.70" x2="334.5" y2="158.70" stroke="#222" stroke-width="1"/><line x1="34.0" y1="138.50" x2="37.0" y2="138.50" stroke="#222" stroke-width="1"/><line x1="337.5" y1="138.50" x2="334.5" y2="138.50" stroke="#222" stroke-width="1"/>
<g font-family="Liberation Sans, sans-serif" font-size="12" fill="#000" stroke="#000" stroke-width="0.3"><text x="29.20" y="16.40" text-anchor="end"> 00</text>
<text x="29.20" y="35.70" text-anchor="end">80</text>
<text x="29.20" y="53.40" text-anchor="end">60</text>
<text x="29.20" y="70.80" text-anchor="end">40</text>
<text x="29.20" y="88.00" text-anchor="end">20</text>
<text x="29.20" y="103.40" text-anchor="end">0</text>
<text x="29.80" y="143.40" text-anchor="end">5</text>
<text x="29.80" y="163.00" text-anchor="end">4</text>
<text x="29.80" y="183.30" text-anchor="end">3</text>
<text x="29.80" y="203.00" text-anchor="end">2</text>
<text x="29.80" y="223.20" text-anchor="end"> </text>
<text x="29.80" y="242.90" text-anchor="end">0</text>
<text x="33.70" y="114.40" text-anchor="middle">0</text>
<text x="33.70" y="253.00" text-anchor="middle">0</text>
<text x="63.34" y="114.40" text-anchor="middle"> 0</text>
<text x="63.34" y="253.00" text-anchor="middle"> 0</text>
<text x="91.78" y="114.40" text-anchor="middle">20</text>
<text x="91.78" y="253.00" text-anchor="middle">20</text>
<text x="120.22" y="114.40" text-anchor="middle">30</text>
<text x="120.22" y="253.00" text-anchor="middle">30</text>
<text x="148.66" y="114.40" text-anchor="middle">40</text>
<text x="148.66" y="253.00" text-anchor="middle">40</text>
<text x="177.10" y="114.40" text-anchor="middle">50</text>
<text x="177.10" y="253.00" text-anchor="middle">50</text>
<text x="205.54" y="114.40" text-anchor="middle">60</text>
<text x="205.54" y="253.00" text-anchor="middle">60</text>
<text x="233.98" y="114.40" text-anchor="middle">70</text>
<text x="233.98" y="253.00" text-anchor="middle">70</text>
<text x="262.42" y="114.40" text-anchor="middle">80</text>
<text x="262.42" y="253.00" text-anchor="middle">80</text>
<text x="290.86" y="114.40" text-anchor="middle">90</text>
<text x="290.86" y="253.00" text-anchor="middle">90</text>
<text x="320.80" y="114.40" text-anchor="middle"> 00</text>
<text x="320.80" y="253.00" text-anchor="middle"> 00</text>
<text x="45.0" y="24.0" font-size="14">T<tspan font-size="9.2" dx="-0.9" dy="1.8">e</tspan></text>
<text x="238.4" y="17.9" fill="#ff0000" stroke="#ff0000">HB</text>
<text x="240.7" y="46.6">D</text>
<text x="240.6" y="72.8" fill="#0000ff" stroke="#0000ff">LB</text>
<text transform="translate(9.8,58.9) rotate(-90)" text-anchor="middle">eV</text>
<text x="39.3" y="155.4" fill="#ff0000" stroke="#ff0000">HB</text>
<text x="46.3" y="192.6">D</text>
<text x="43.8" y="235.7" fill="#0000ff" stroke="#0000ff">LB</text>
<text x="80.2" y="157.8" font-size="14">n<tspan font-size="9.2" dx="0.3" dy="2.2">e</tspan></text>
<text x="34.0" y="135.7" font-size="11.6">x  0<tspan font-size="9" dy="-6.6">20</tspan></text>
<path d="M12.20,16.40 L12.20,9.15 L10.33,10.48 L10.33,9.49 L12.28,8.14 L13.26,8.14 L13.26,16.40 Z M26.14,223.20 L26.14,215.95 L24.28,217.28 L24.28,216.29 L26.23,214.94 L27.20,214.94 L27.20,223.20 Z M59.68,114.40 L59.68,107.15 L57.82,108.48 L57.82,107.49 L59.77,106.14 L60.74,106.14 L60.74,114.40 Z M59.68,253.00 L59.68,245.75 L57.82,247.08 L57.82,246.09 L59.77,244.74 L60.74,244.74 L60.74,253.00 Z M313.81,114.40 L313.81,107.15 L311.94,108.48 L311.94,107.49 L313.89,106.14 L314.87,106.14 L314.87,114.40 Z M313.81,253.00 L313.81,245.75 L311.94,247.08 L311.94,246.09 L313.89,244.74 L314.87,244.74 L314.87,253.00 Z M45.94,135.70 L45.94,128.69 L44.14,129.98 L44.14,129.02 L46.02,127.72 L46.97,127.72 L46.97,135.70 Z" fill="#000" stroke="#000"/>
<text transform="translate(18.3,194.0) rotate(-90)">m<tspan font-size="10" dy="-5.4">-3</tspan></text>
<text x="162.3" y="270.6">s</text>
<rect x="169.8" y="269.1" width="0.9" height="6.4" fill="#000" stroke="none"/><rect x="171.8" y="269.1" width="0.9" height="6.4" fill="#000" stroke="none"/>
<text x="175.4" y="270.8">(m)</text>
<text x="13.5" y="266.2">outer</text>
<text x="13.5" y="281.0">target</text>
<text x="310.5" y="266.8">inner</text>
<text x="310.5" y="281.3">target</text></g></svg>
</body></html>
